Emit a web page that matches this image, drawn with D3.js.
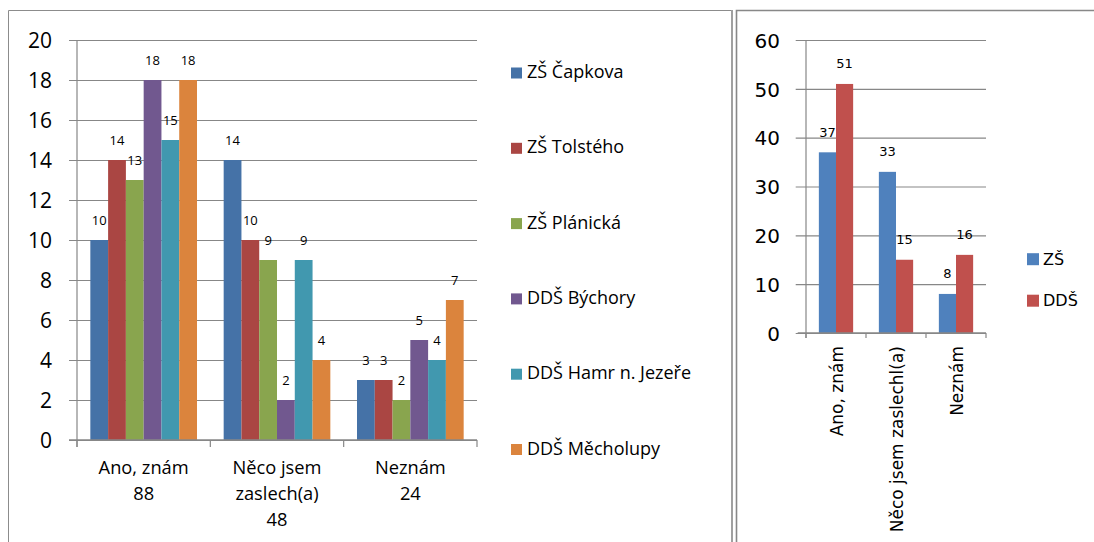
<!DOCTYPE html>
<html><head><meta charset="utf-8">
<script src="https://cdn.jsdelivr.net/npm/d3@7"></script>
<style>
html,body{margin:0;padding:0;background:#fff;}
svg{display:block;}
</style></head>
<body>
<svg id="chart" width="1094" height="542"></svg>
<script>
// ---- Data: left chart ----
const leftCategories = ["Ano, znám", "Něco jsem zaslech(a)", "Neznám"];
const leftCategoryLines = [["Ano, znám", "88"], ["Něco jsem", "zaslech(a)", "48"], ["Neznám", "24"]];
const leftSeriesNames = ["ZŠ Čapkova", "ZŠ Tolstého", "ZŠ Plánická", "DDŠ Býchory", "DDŠ Hamr n. Jezeře", "DDŠ Měcholupy"];
const zsCapkova = [10, 14, 3];
const zsTolsteho = [14, 10, 3];
const zsPlanicka = [13, 9, 2];
const ddsBychory = [18, 2, 5];
const ddsHamr = [15, 9, 4];
const ddsMecholupy = [18, 4, 7];
const leftTicks = [0, 2, 4, 6, 8, 10, 12, 14, 16, 18, 20];

// ---- Data: right chart ----
const rightCategories = ["Ano, znám", "Něco jsem zaslechl(a)", "Neznám"];
const rightSeriesNames = ["ZŠ", "DDŠ"];
const zsTotal = [37, 33, 8];
const ddsTotal = [51, 15, 16];
const rightTicks = [0, 10, 20, 30, 40, 50, 60];

const leftValues = [zsCapkova, zsTolsteho, zsPlanicka, ddsBychory, ddsHamr, ddsMecholupy];
const rightValues = [zsTotal, ddsTotal];
const leftColors = ["#4572A7", "#AA4643", "#89A54E", "#71588F", "#4198AF", "#DB843D"];
const rightColors = ["#4F81BD", "#C0504D"];
const gridColor = "#878787";

const svg = d3.select("#chart");

// Frames
svg.append("path").attr("d", "M8.5,545 V10.5 H732").attr("fill", "none").attr("stroke", "#8c8c8c").attr("stroke-width", 1);
svg.append("line").attr("x1", 732).attr("x2", 732).attr("y1", 10).attr("y2", 545).attr("stroke", "#a0a0a0").attr("stroke-width", 2);
svg.append("path").attr("d", "M736.5,545 V10.5 H1100").attr("fill", "none").attr("stroke", "#888").attr("stroke-width", 1.6);

// ================= LEFT CHART =================
{
  const fontL = "'Open Sans', sans-serif";
  const x0 = d3.scaleBand().domain(leftCategories).range([77, 477]).padding(0);
  const x1 = d3.scaleBand().domain(leftSeriesNames).range([0, x0.bandwidth()]).paddingInner(0).paddingOuter(0.75);
  const y = d3.scaleLinear().domain([0, 20]).range([440, 40]);
  const g = svg.append("g");

  // gridlines (including outside tick)
  const grid = g.append("g").attr("transform", "translate(477,0)")
    .call(d3.axisLeft(y).tickValues(leftTicks).tickSize(408).tickFormat(""));
  grid.select(".domain").remove();
  grid.selectAll(".tick line").attr("stroke", gridColor).attr("stroke-width", 1.2);

  // y labels
  const yl = g.append("g").attr("transform", "translate(77,0)")
    .call(d3.axisLeft(y).tickValues(leftTicks).tickSize(0).tickPadding(25));
  yl.select(".domain").remove();
  yl.selectAll("text").attr("font-family", fontL).attr("font-size", 21).attr("fill", "#000").attr("dy", "0.36em");

  // bars
  leftSeriesNames.forEach((s, si) => {
    g.append("g").selectAll("rect").data(leftValues[si]).join("rect")
      .attr("x", (d, i) => x0(leftCategories[i]) + x1(s))
      .attr("y", d => y(d))
      .attr("width", x1.bandwidth())
      .attr("height", d => y(0) - y(d))
      .attr("fill", leftColors[si]);
  });
  // labels
  leftSeriesNames.forEach((s, si) => {
    g.append("g").selectAll("text").data(leftValues[si]).join("text")
      .attr("x", (d, i) => x0(leftCategories[i]) + x1(s) + x1.bandwidth() / 2)
      .attr("y", d => y(d) - 15.5)
      .attr("text-anchor", "middle")
      .attr("font-family", fontL).attr("font-size", 13).attr("fill", "#000")
      .text(d => d);
  });

  // axes lines
  g.append("line").attr("x1", 77).attr("x2", 77).attr("y1", y(20)).attr("y2", y(0) + 7).attr("stroke", gridColor).attr("stroke-width", 1.2);
  g.append("line").attr("x1", 69).attr("x2", 477).attr("y1", y(0)).attr("y2", y(0)).attr("stroke", gridColor).attr("stroke-width", 1.5);
  const bounds = leftCategories.map(c => x0(c)).concat([x0(leftCategories[2]) + x0.bandwidth()]);
  g.append("g").selectAll("line").data(bounds).join("line")
    .attr("x1", d => d).attr("x2", d => d).attr("y1", y(0)).attr("y2", y(0) + 7)
    .attr("stroke", gridColor).attr("stroke-width", 1.2);

  // category labels
  leftCategories.forEach((c, i) => {
    const t = g.append("text").attr("text-anchor", "middle")
      .attr("font-family", fontL).attr("font-size", 18.3).attr("fill", "#000");
    leftCategoryLines[i].forEach((line, li) => {
      t.append("tspan").attr("x", x0(c) + x0.bandwidth() / 2).attr("y", 474 + li * 26).text(line);
    });
  });

  // legend
  const lg = g.append("g");
  leftSeriesNames.forEach((s, si) => {
    const by = 78 + si * 75.3;
    lg.append("rect").attr("x", 511).attr("y", by - 10.5).attr("width", 11).attr("height", 11).attr("fill", leftColors[si]);
    lg.append("text").attr("x", 527).attr("y", by).attr("font-family", fontL).attr("font-size", 18).attr("fill", "#000").text(s);
  });
}

// ================= RIGHT CHART =================
{
  const fontR = "'DejaVu Sans', sans-serif";
  const x0 = d3.scaleBand().domain(rightCategories).range([806, 986]).padding(0);
  const x1 = d3.scaleBand().domain(rightSeriesNames).range([0, x0.bandwidth()]).paddingInner(0).paddingOuter(0.75);
  const y = d3.scaleLinear().domain([0, 60]).range([333, 40]);
  const g = svg.append("g");

  const grid = g.append("g").attr("transform", "translate(986,0)")
    .call(d3.axisLeft(y).tickValues(rightTicks).tickSize(988 - 797.7).tickFormat(""));
  grid.select(".domain").remove();
  grid.selectAll(".tick line").attr("stroke", gridColor).attr("stroke-width", 1.2);

  const yl = g.append("g").attr("transform", "translate(806,0)")
    .call(d3.axisLeft(y).tickValues(rightTicks).tickSize(0).tickPadding(26));
  yl.select(".domain").remove();
  yl.selectAll("text").attr("font-family", fontR).attr("font-size", 20).attr("fill", "#000").attr("dy", "0.36em");

  rightSeriesNames.forEach((s, si) => {
    g.append("g").selectAll("rect").data(rightValues[si]).join("rect")
      .attr("x", (d, i) => x0(rightCategories[i]) + x1(s))
      .attr("y", d => y(d))
      .attr("width", x1.bandwidth())
      .attr("height", d => y(0) - y(d))
      .attr("fill", rightColors[si]);
  });
  rightSeriesNames.forEach((s, si) => {
    g.append("g").selectAll("text").data(rightValues[si]).join("text")
      .attr("x", (d, i) => x0(rightCategories[i]) + x1(s) + x1.bandwidth() / 2)
      .attr("y", d => y(d) - 15.5)
      .attr("text-anchor", "middle")
      .attr("font-family", fontR).attr("font-size", 13).attr("fill", "#000")
      .text(d => d);
  });

  g.append("line").attr("x1", 806).attr("x2", 806).attr("y1", y(60)).attr("y2", y(0) + 5).attr("stroke", gridColor).attr("stroke-width", 1.2);
  g.append("line").attr("x1", 797.7).attr("x2", 986).attr("y1", y(0)).attr("y2", y(0)).attr("stroke", gridColor).attr("stroke-width", 1.5);
  const bounds = rightCategories.map(c => x0(c)).concat([x0(rightCategories[2]) + x0.bandwidth()]);
  g.append("g").selectAll("line").data(bounds).join("line")
    .attr("x1", d => d).attr("x2", d => d).attr("y1", y(0)).attr("y2", y(0) + 5)
    .attr("stroke", gridColor).attr("stroke-width", 1.2);

  rightCategories.forEach((c, i) => {
    const cx = x0(c) + x0.bandwidth() / 2;
    g.append("text").attr("transform", `translate(${cx + 7},346) rotate(-90)`)
      .attr("text-anchor", "end")
      .attr("font-family", fontR).attr("font-size", 17).attr("fill", "#000").text(c);
  });

  rightSeriesNames.forEach((s, si) => {
    const by = 264.7 + si * 41.5;
    g.append("rect").attr("x", 1027).attr("y", by - 11.5).attr("width", 12).attr("height", 12).attr("fill", rightColors[si]);
    g.append("text").attr("x", 1043).attr("y", by).attr("font-family", fontR).attr("font-size", 16).attr("fill", "#000").text(s);
  });
}
</script>
</body></html>
